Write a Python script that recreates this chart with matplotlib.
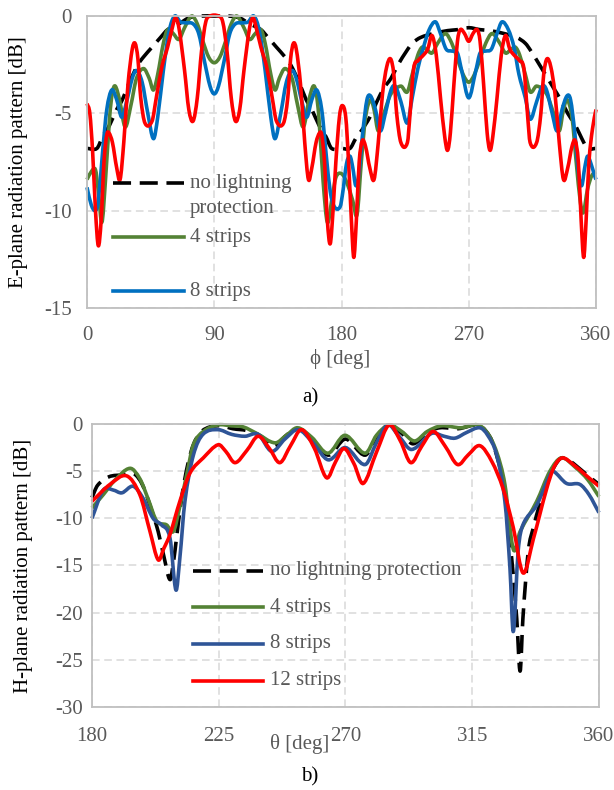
import matplotlib
matplotlib.use("Agg")
import matplotlib.pyplot as plt
from matplotlib.lines import Line2D
from matplotlib.path import Path
from matplotlib.patches import PathPatch

plt.rcParams["font.family"] = ["Liberation Serif", "DejaVu Serif"]
plt.rcParams["axes.unicode_minus"] = False

# ---- a) E-plane, (phi [deg], dB) ----
e_nolp = [(0, -6.8), (7, -6.8), (11, -6.2), (16, -5.6), (21, -4.8), (25, -4.3), (30, -3.4), (36, -2.5),
          (40, -2.1), (46, -1.6), (52, -1.1), (57, -0.7), (65, -0.4), (72, -0.1), (80, 0), (90, 0),
          (100, 0), (108, -0.1), (115, -0.4), (123, -0.7), (128, -1.1), (134, -1.6), (140, -2.1),
          (144, -2.5), (150, -3.4), (155, -4.3), (159, -4.8), (164, -5.6), (169, -6.2), (173, -6.8),
          (180, -6.8), (186, -6.8), (190, -6.3), (194, -5.9), (200, -5.2), (205, -4.4), (210, -3.7),
          (215, -3.2), (220, -2.5), (226, -1.8), (230, -1.4), (236, -1.1), (245, -0.9), (255, -0.75),
          (262, -0.7), (270, -0.6), (278, -0.7), (285, -0.75), (295, -0.9), (304, -1.1), (310, -1.4),
          (314, -1.8), (320, -2.5), (325, -3.1), (330, -3.7), (335, -4.3), (340, -5.0), (346, -5.7),
          (350, -6.3), (354, -6.8), (360, -6.8)]

e_4 = [(0, -8.4), (3, -8.0), (6, -7.9), (8, -9.0), (10.5, -10.6), (13, -8.5), (16, -5.2), (18, -3.9),
       (20, -3.6), (23, -4.3), (27, -5.7), (31, -4.6), (35, -3.2), (40, -2.7), (44, -3.2), (47, -3.8),
       (50, -3.0), (54, -1.4), (57, -0.7), (61, -0.9), (65, -1.2), (69, -0.6), (74, 0), (78, -0.4),
       (82, -1.3), (86, -2.1), (90, -2.4), (94, -2.1), (98, -1.3), (102, -0.4), (106, 0), (111, -0.6),
       (115, -1.2), (119, -0.9), (123, -0.7), (126, -1.4), (130, -3.0), (133, -3.8), (136, -3.2),
       (140, -2.7), (145, -3.2), (149, -4.6), (153, -5.7), (157, -4.3), (160, -3.6), (162, -3.9),
       (164, -5.2), (167, -8.5), (170, -10.6), (173, -9.5), (176, -8.3), (180, -8.1), (184, -8.6),
       (188, -9.5), (191, -10.2), (194, -7.5), (197, -5.2), (200.5, -4.3), (203, -4.8), (206, -5.9),
       (210, -5.0), (215, -4.0), (222, -3.6), (226.5, -3.9), (230, -3.0), (234, -2.0), (237, -1.6),
       (240, -1.7), (244, -1.9), (248, -1.4), (253.5, -0.9), (258, -1.4), (262, -2.2), (266, -3.0),
       (270, -3.4), (274, -3.0), (278, -2.2), (282, -1.4), (286.5, -0.9), (292, -1.4), (296, -1.9),
       (300, -1.7), (303, -1.6), (306, -2.0), (310, -3.0), (313.5, -3.9), (318, -3.6), (325, -4.0),
       (330, -5.0), (334, -5.9), (337, -4.8), (339.5, -4.3), (343, -5.2), (346, -7.5), (349, -9.6),
       (351, -10.1), (354, -8.9), (357, -8.2), (360, -8.0)]

e_8 = [(0, -8.8), (3, -9.7), (6, -10.0), (8, -9.5), (11, -7.0), (14, -4.8), (17.5, -3.8), (21, -4.3),
       (24.6, -5.2), (28, -4.4), (32, -3.2), (35, -2.8), (39, -3.4), (43, -5.0), (47, -6.3), (50, -5.2),
       (54, -2.8), (58, -0.8), (62, 0), (66, -0.3), (70, -0.35), (75, -0.4), (79, -0.9), (83, -2.3),
       (87, -3.6), (90, -4.0), (93, -3.6), (97, -2.3), (101, -0.9), (105, -0.4), (110, -0.35),
       (114, -0.3), (118, 0), (122, -0.8), (126, -2.8), (130, -5.2), (133, -6.3), (137, -5.0),
       (141, -3.4), (145, -2.8), (148, -3.2), (152, -4.4), (155.4, -5.2), (159, -4.3), (162.5, -3.8),
       (166, -4.8), (169, -7.0), (172, -9.0), (175, -9.8), (179, -9.8), (181, -9.0), (183.5, -7.6),
       (186, -7.2), (188, -7.8), (190, -8.7), (192, -8.3), (195, -6.0), (198, -4.3), (200.5, -4.1),
       (204, -4.8), (207.5, -5.9), (211, -5.0), (215, -3.8), (218, -3.6), (222, -4.4), (226.5, -5.5),
       (230, -4.2), (234, -2.7), (238, -1.6), (242, -0.7), (246.5, -0.3), (250, -0.9), (254, -1.7),
       (258, -1.8), (262, -1.9), (265, -2.8), (270, -4.2), (275, -2.8), (278, -1.9), (282, -1.8),
       (286, -1.7), (290, -0.9), (293.5, -0.3), (298, -0.7), (302, -1.6), (305.5, -3.0), (310, -4.2),
       (313.5, -5.3), (318, -4.4), (322, -3.6), (325, -3.8), (329, -5.0), (332.5, -5.9), (336, -4.8),
       (339.5, -4.1), (342, -4.3), (345, -6.0), (348, -8.3), (350, -8.7), (352, -7.8), (354, -7.2),
       (356.5, -7.6), (359, -8.2), (360, -8.4)]

e_12 = [(0, -4.5), (2, -5.0), (4, -7.0), (6, -10.0), (8, -11.8), (10, -10.5), (12, -7.5), (14, -6.1),
        (15.5, -6.0), (18, -6.5), (21, -7.8), (23.4, -8.4), (26, -6.5), (29, -3.5), (32, -1.7),
        (34, -1.4), (36, -2.2), (38, -4.2), (41, -5.5), (46, -5.4), (49, -4.2), (53, -2.6), (57, -1.6),
        (60, -0.7), (62.5, -0.1), (65, -0.6), (69, -2.8), (72, -4.8), (75, -5.4), (78, -4.2),
        (81, -1.8), (84, -0.3), (87, 0), (93, 0), (96, -0.3), (99, -1.8), (102, -4.2), (105, -5.4),
        (108, -4.8), (111, -2.8), (115, -0.6), (117.5, -0.1), (120, -0.7), (123, -1.6), (127, -2.6),
        (131, -4.2), (134, -5.4), (139, -5.5), (142, -4.2), (144, -2.2), (146, -1.4), (148, -1.7),
        (151, -3.5), (154, -6.5), (156.6, -8.4), (159, -7.8), (162, -6.5), (164.5, -6.0), (166, -6.1),
        (168, -7.5), (170, -10.5), (172, -11.7), (174, -10.0), (176, -7.5), (178.5, -5.2),
        (180.5, -4.6), (183, -5.2), (185, -7.5), (187, -10.5), (188.7, -12.4), (190.5, -10.5),
        (192.5, -7.5), (194.7, -6.4), (197, -6.7), (200, -7.8), (203, -8.4), (206, -6.5), (209, -4.0),
        (212, -2.6), (214.7, -2.2), (217, -3.0), (219, -5.0), (222, -6.5), (226.6, -6.5),
        (228.5, -5.0), (231, -2.7), (234, -2.3), (238, -2.0), (241, -1.7), (244, -1.0), (247, -2.0),
        (250, -4.2), (253, -6.2), (255, -6.9), (257, -6.0), (259.5, -3.5), (262, -1.3), (264, -0.7),
        (267, -0.9), (270, -1.3), (273, -0.9), (276, -0.7), (278, -1.3), (280.5, -3.5), (283, -6.0),
        (285, -6.9), (287, -6.2), (290, -4.2), (293, -2.0), (296, -1.0), (299, -1.7), (302, -2.0),
        (306, -2.3), (309, -2.7), (311.5, -5.0), (313.4, -6.5), (318, -6.5), (321, -5.0), (323, -3.0),
        (325.3, -2.2), (328, -2.6), (331, -4.0), (334, -6.5), (337, -8.4), (340, -7.8), (343, -6.7),
        (345.3, -6.4), (347.5, -7.5), (349.5, -10.5), (351.3, -12.4), (353, -10.5), (355, -7.5),
        (357.5, -5.8), (360, -4.8)]

# ---- b) H-plane, (theta [deg], dB) ----
h_nolp = [(180, -7.8), (182, -6.5), (186, -5.6), (191, -5.4), (195, -5.3), (198, -6.5), (201, -9.0),
          (203.5, -11.4), (205.5, -14.0), (207.7, -16.5), (209, -14.5), (210, -12.1), (212, -7.5),
          (214, -4.3), (216, -2.2), (218.5, -0.9), (222, -0.3), (226, -0.2), (230, -0.5), (235, -0.7),
          (240, -1.3), (244.5, -2.4), (249, -1.2), (253, -0.5), (258, -1.6), (264, -3.3), (270, -1.6),
          (277, -3.3), (281, -1.4), (285.5, -0.1), (290, -1.0), (294, -2.1), (299, -0.9),
          (303.5, -0.4), (310, -0.5), (317, -0.1), (320, -0.8), (322.5, -2.2), (326, -6.4),
          (329, -14.2), (330.8, -20.6), (332, -26.2), (333, -20.6), (334.9, -13.5), (336.7, -11.0),
          (339, -8.5), (341.4, -6.4), (344, -4.6), (346.7, -3.6), (350, -4.0), (353, -4.7),
          (357, -5.7), (360, -6.4)]

h_4 = [(180, -8.9), (184, -7.5), (188, -6.0), (193.5, -4.7), (197, -5.8), (200, -8.0), (203, -10.3),
       (206.5, -10.7), (208.9, -11.4), (211, -9.0), (213.6, -5.4), (216, -2.2), (219.5, -0.8),
       (224.7, -0.1), (229.6, -0.2), (233.6, -0.3), (238.5, -1.0), (245, -2.0), (249, -1.2),
       (253, -0.4), (258, -1.4), (263.8, -3.1), (269.8, -1.2), (277, -3.1), (281, -1.2),
       (285.5, -0.1), (290, -0.8), (294.5, -1.8), (299, -0.8), (304, -0.2), (311, -0.4), (317, -0.1),
       (320.5, -1.0), (323.7, -3.0), (326.6, -6.4), (329.6, -13.3), (332, -11.4), (337.9, -8.2),
       (342.6, -5.0), (346.7, -3.6), (352, -4.7), (356, -5.9), (360, -7.7)]

h_8 = [(180, -10.0), (184, -7.0), (187.5, -7.0), (190.6, -7.3), (194.6, -6.6), (198, -7.8),
       (201.7, -10.0), (204.7, -10.7), (207.7, -12.1), (209.8, -17.6), (211.2, -14.2), (213, -8.2),
       (216, -3.3), (219.4, -1.1), (224.7, -0.6), (229.6, -1.1), (234.3, -1.3), (239, -1.1),
       (243.8, -2.9), (248.5, -1.6), (253.2, -0.6), (258.5, -2.0), (263.9, -3.8), (270, -2.5),
       (277, -4.3), (281, -2.0), (285, -0.1), (289, -1.3), (293.5, -2.7), (300.6, -1.0), (305, -1.3),
       (308.9, -1.5), (313, -0.9), (317.7, -0.4), (320.5, -1.2), (323.7, -3.3), (326.6, -8.2),
       (328.4, -15.3), (329.6, -22.0), (331.3, -13.5), (333, -10.7), (337.9, -8.6), (342.6, -5.4),
       (343.8, -5.0), (348.5, -6.3), (353.2, -6.4), (356.5, -7.5), (360, -9.4)]

h_12 = [(180, -8.2), (186.4, -6.4), (192.3, -5.5), (197, -7.5), (200.6, -11.4), (203.5, -14.4),
        (205.5, -13.2), (207.7, -11.7), (211.2, -8.2), (214.8, -5.2), (219.5, -3.6), (224.8, -2.2),
        (227.5, -2.9), (230.8, -4.1), (235, -2.8), (239, -1.3), (243, -2.6), (246.7, -4.1),
        (250.5, -2.3), (254.4, -0.6), (259, -2.6), (263.3, -5.7), (266.5, -4.0), (269.5, -2.6),
        (273, -4.2), (276.3, -6.3), (281, -3.0), (285.5, -0.1), (289.5, -1.8), (293.2, -4.1),
        (297, -2.4), (301.1, -0.8), (305.5, -2.4), (309.8, -4.3), (313.5, -3.3), (317.7, -2.3),
        (322, -4.0), (326, -6.9), (329.6, -11.0), (333.1, -15.8), (336.7, -12.2), (341.4, -6.9),
        (344, -4.6), (346.9, -3.6), (350.9, -4.3), (355.6, -5.5), (360, -6.6)]

labels_a = [["no lightning", "protection"], ["4 strips"], ["8 strips"]]
labels_b = ["no lightning protection", "4 strips", "8 strips", "12 strips"]

GREY = "#595959"
BLACK = "black"
GREEN = "#548235"
RED = "#FF0000"
BLUE_A = "#0070C0"
BLUE_B = "#2F5597"
LW = 2.6
DASH = (5, 2.4)
FS = 15


def style(ax, xlim, xticks, ylim, yticks, xpad, ypad):
    ax.set_xlim(xlim)
    ax.set_ylim(ylim)
    ax.set_xticks(xticks)
    ax.set_yticks(yticks)
    ax.grid(True, color="#D9D9D9", linestyle=(0, (5, 3)), linewidth=1.1)
    ax.set_axisbelow(True)
    for s in ax.spines.values():
        s.set_color("#BFBFBF")
        s.set_linewidth(1.3)
    ax.tick_params(axis="x", length=0, labelsize=FS, labelcolor=GREY, pad=xpad)
    ax.tick_params(axis="y", length=0, labelsize=FS, labelcolor=GREY, pad=ypad)


def curve(ax, pts, color, ls="-"):
    # smoothed line through the data points, like the spreadsheet's "smoothed line" style
    xs, ys = zip(*pts)
    n = len(xs)
    slope = []
    for i in range(n):
        a, b = max(i - 1, 0), min(i + 1, n - 1)
        slope.append((ys[b] - ys[a]) / (xs[b] - xs[a]))
    verts, codes = [(xs[0], ys[0])], [Path.MOVETO]
    for i in range(n - 1):
        d = (xs[i + 1] - xs[i]) / 3
        verts += [(xs[i] + d, ys[i] + slope[i] * d),
                  (xs[i + 1] - d, ys[i + 1] - slope[i + 1] * d),
                  (xs[i + 1], ys[i + 1])]
        codes += [Path.CURVE4] * 3
    ax.add_patch(PathPatch(Path(verts, codes), fill=False, edgecolor=color, lw=LW,
                           ls=ls, joinstyle="round", capstyle="butt", clip_on=False))


fig = plt.figure(figsize=(6.14, 7.90), dpi=100)

# ---------------- a) ----------------
ax1 = fig.add_axes([0.1417, 0.6101, 0.829, 0.3696])
style(ax1, (0, 360), [0, 90, 180, 270, 360], (-15, 0), [0, -5, -10, -15], 13, 11)
curve(ax1, e_nolp, BLACK, (0, DASH))
curve(ax1, e_4, GREEN)
curve(ax1, e_8, BLUE_A)
curve(ax1, e_12, RED)
ax1.set_ylabel("E-plane radiation pattern [dB]", fontsize=FS)
ax1.yaxis.set_label_coords(-0.116, 0.5)
ax1.set_xlabel("ϕ [deg]", fontsize=FS, color=GREY)
ax1.xaxis.set_label_coords(0.497, -0.142)

# legend drawn inside the plot (the 12 strips entry is cut off in the original)
leg_a = [(BLACK, (0, DASH), 0.428), (GREEN, "-", 0.243), (BLUE_A, "-", 0.058)]
for (c, ls, yy), lines in zip(leg_a, labels_a):
    ax1.add_line(Line2D([0.051, 0.191], [yy, yy], transform=ax1.transAxes,
                        color=c, lw=LW, ls=ls))
    for k, txt in enumerate(lines):
        ax1.text(0.202, yy - k * 0.086, txt, transform=ax1.transAxes,
                 fontsize=FS, color=GREY, va="center")

# ---------------- b) ----------------
ax2 = fig.add_axes([0.1498, 0.1051, 0.8257, 0.3582])
style(ax2, (180, 360), [180, 225, 270, 315, 360], (-30, 0),
      [0, -5, -10, -15, -20, -25, -30], 14.5, 6.5)
curve(ax2, h_nolp, BLACK, (0, DASH))
curve(ax2, h_4, GREEN)
curve(ax2, h_8, BLUE_B)
curve(ax2, h_12, RED)
ax2.set_ylabel("H-plane radiation pattern [dB]", fontsize=FS)
ax2.yaxis.set_label_coords(-0.116, 0.5)
ax2.set_xlabel("θ [deg]", fontsize=FS, color=GREY)
ax2.xaxis.set_label_coords(0.41, -0.095)

leg_b = [(BLACK, (0, DASH), 0.481), (GREEN, "-", 0.353), (BLUE_B, "-", 0.223), (RED, "-", 0.092)]
for (c, ls, yy), lab in zip(leg_b, labels_b):
    ax2.add_line(Line2D([0.199, 0.337], [yy, yy], transform=ax2.transAxes,
                        color=c, lw=LW, ls=ls))
    ax2.text(0.351, yy, lab, transform=ax2.transAxes, fontsize=FS, color=GREY, va="center")

fig.text(0.506, 1 - 398 / 790, "a)", fontsize=FS, ha="center", va="center")
fig.text(0.505, 1 - 777 / 790, "b)", fontsize=FS, ha="center", va="center")

fig.savefig("out.png", dpi=100)
